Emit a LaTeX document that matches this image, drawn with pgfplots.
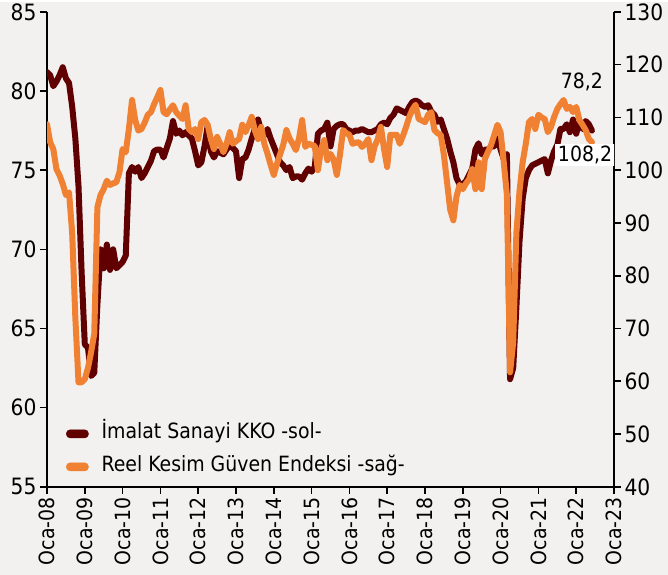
\documentclass[border=0pt]{standalone}
\usepackage{fontspec}
\setmainfont{DejaVu Sans Condensed}
\usepackage{pgfplots}
\pgfplotsset{compat=1.18}
\definecolor{bg}{RGB}{242,241,239}
\definecolor{kko}{RGB}{96,0,0}
\definecolor{rkge}{RGB}{240,128,50}
\newcommand{\tickfont}{\fontsize{22.5bp}{26bp}\selectfont}
\newcommand{\xfont}{\fontsize{21bp}{25bp}\selectfont}
\newcommand{\legfont}{\fontsize{21bp}{24bp}\selectfont}
\pgfplotsset{
  common/.style={
    at={(47bp,88bp)}, anchor=south west,
    width=567bp, height=475bp, scale only axis,
    xmin=0, xmax=180,
    axis line style={-, black, line width=1.6bp},
    every tick/.style={black, line width=1.6bp},
    major tick length=7bp,
    tick align=outside,
    /pgf/number format/assume math mode=true,
    yticklabel style={font=\tickfont},
    xticklabel style={font=\xfont},
  }
}
\begin{document}
\begin{tikzpicture}
\fill[bg] (0bp,0bp) rectangle (668bp,573bp);
\begin{axis}[common,
  ymin=55, ymax=85, ytick={55,60,...,85},
  axis x line*=bottom, axis y line*=left,
  xtick={0,12,...,180},
  xticklabels={Oca-08,Oca-09,Oca-10,Oca-11,Oca-12,Oca-13,Oca-14,Oca-15,Oca-16,Oca-17,Oca-18,Oca-19,Oca-20,Oca-21,Oca-22,Oca-23},
  xticklabel style={rotate=90, anchor=east},
]
\addplot[kko, line width=6bp, line join=round, line cap=round] coordinates {
(0,81.2)(1,81.0)(2,80.3)(3,80.6)(4,81.0)(5,81.5)(6,80.8)(7,80.5)(8,79.0)(9,77.0)
(10,74.0)(11,68.5)(12,64.0)(13,63.8)(14,62.0)(15,62.2)(16,66.5)(17,70.0)(18,68.8)(19,70.3)
(20,68.7)(21,70.0)(22,68.8)(23,69.0)(24,69.2)(25,69.6)(26,74.8)(27,75.2)(28,74.9)(29,75.2)
(30,74.5)(31,74.8)(32,75.2)(33,75.6)(34,76.2)(35,76.3)(36,76.3)(37,75.8)(38,76.4)(39,77.0)
(40,78.1)(41,77.3)(42,77.5)(43,77.2)(44,77.4)(45,77.2)(46,77.0)(47,76.2)(48,75.3)(49,75.5)
(50,76.5)(51,77.8)(52,76.2)(53,75.8)(54,76.2)(55,76.1)(56,76.0)(57,76.3)(58,76.6)(59,76.4)
(60,76.2)(61,74.5)(62,75.7)(63,75.8)(64,76.3)(65,77.0)(66,77.6)(67,78.2)(68,77.5)(69,77.2)
(70,77.6)(71,77.0)(72,76.5)(73,76.0)(74,75.5)(75,75.3)(76,75.0)(77,75.2)(78,74.5)(79,74.6)
(80,74.6)(81,74.4)(82,74.8)(83,75.1)(84,74.9)(85,75.2)(86,77.3)(87,77.5)(88,77.6)(89,78.0)
(90,76.5)(91,77.6)(92,77.8)(93,77.9)(94,77.9)(95,77.6)(96,77.5)(97,77.4)(98,77.5)(99,77.5)
(100,77.6)(101,77.5)(102,77.4)(103,77.4)(104,77.5)(105,77.6)(106,77.9)(107,78.0)(108,77.9)(109,78.3)
(110,78.5)(111,78.9)(112,78.8)(113,78.7)(114,78.6)(115,79.0)(116,79.3)(117,79.4)(118,79.3)(119,79.1)
(120,79.0)(121,79.1)(122,78.7)(123,78.5)(124,78.05)(125,78.2)(126,77.6)(127,77.0)(128,76.2)(129,75.5)
(130,74.5)(131,74.1)(132,74.1)(133,74.3)(134,74.7)(135,75.1)(136,76.3)(137,76.7)(138,76.0)(139,76.3)
(140,76.3)(141,76.5)(142,76.5)(143,77.0)(144,76.3)(145,75.7)(146,76.0)(147,61.8)(148,62.5)(149,66.3)
(150,70.5)(151,73.2)(152,74.5)(153,75.0)(154,75.3)(155,75.4)(156,75.5)(157,75.6)(158,75.7)(159,74.8)
(160,75.6)(161,76.2)(162,76.6)(163,77.6)(164,77.6)(165,77.9)(166,77.4)(167,78.2)(168,77.3)(169,78.0)
(170,77.6)(171,78.1)(172,77.9)(173,77.5)
};
\end{axis}
\begin{axis}[common,
  ymin=40, ymax=130, ytick={40,50,...,130},
  axis x line=none, axis y line*=right,
  legend style={at={(0.0335,0.0768)}, anchor=west, draw=none, fill=none,
    font=\legfont, inner sep=0pt, row sep=13bp, column sep=13bp,
    nodes={inner sep=0bp, text height=15bp, text depth=5bp}},
  legend cell align=left,
]
\addlegendimage{legend image code/.code={\fill[kko, rounded corners=3.5bp] (0bp,-4bp) rectangle (22bp,4bp);}}
\addlegendentry{İmalat Sanayi KKO -sol-}
\addlegendimage{legend image code/.code={\fill[rkge, rounded corners=3.5bp] (0bp,-4bp) rectangle (22bp,4bp);}}
\addlegendentry{Reel Kesim Güven Endeksi -sağ-}
\addplot[rkge, line width=6bp, line join=round, line cap=round, forget plot] coordinates {
(0,108.7)(1,105.3)(2,104.0)(3,100.2)(4,99.0)(5,97.4)(6,95.3)(7,95.8)(8,88.0)(9,72.0)
(10,59.8)(11,59.8)(12,60.4)(13,62.5)(14,65.5)(15,69.0)(16,93.0)(17,95.3)(18,96.4)(19,98.0)
(20,97.2)(21,97.5)(22,97.7)(23,99.6)(24,104.0)(25,103.4)(26,107.8)(27,113.3)(28,109.5)(29,107.5)
(30,107.8)(31,109.0)(32,110.5)(33,111.0)(34,112.5)(35,113.8)(36,115.2)(37,111.0)(38,110.6)(39,111.5)
(40,112.3)(41,111.0)(42,110.3)(43,109.7)(44,112.3)(45,107.8)(46,107.2)(47,107.8)(48,105.9)(49,109.1)
(50,109.5)(51,108.6)(52,105.9)(53,104.0)(54,106.3)(55,105.0)(56,103.4)(57,105.0)(58,107.2)(59,105.0)
(60,105.5)(61,105.9)(62,108.6)(63,107.2)(64,108.5)(65,110.1)(66,107.5)(67,105.9)(68,108.2)(69,105.0)
(70,103.1)(71,101.0)(72,99.1)(73,101.2)(74,103.0)(75,104.8)(76,107.6)(77,106.0)(78,105.0)(79,103.8)
(80,106.0)(81,109.5)(82,104.4)(83,105.0)(84,104.8)(85,104.6)(86,100.0)(87,104.0)(88,105.7)(89,101.9)
(90,103.1)(91,102.0)(92,99.1)(93,102.9)(94,107.6)(95,107.0)(96,106.7)(97,105.0)(98,105.2)(99,105.3)
(100,104.4)(101,105.0)(102,105.9)(103,101.9)(104,104.5)(105,105.9)(106,108.2)(107,104.0)(108,100.6)(109,106.7)
(110,106.7)(111,106.7)(112,105.0)(113,106.5)(114,108.2)(115,110.1)(116,111.5)(117,112.4)(118,109.7)(119,109.4)
(120,109.1)(121,110.5)(122,111.0)(123,107.6)(124,107.0)(125,106.7)(126,102.9)(127,97.7)(128,92.5)(129,90.5)
(130,95.0)(131,97.2)(132,96.4)(133,97.5)(134,98.3)(135,100.2)(136,96.4)(137,101.5)(138,96.4)(139,102.1)
(140,103.5)(141,104.8)(142,106.7)(143,108.6)(144,107.2)(145,101.5)(146,95.3)(147,61.7)(148,67.4)(149,88.0)
(150,96.0)(151,101.5)(152,105.0)(153,109.1)(154,109.7)(155,107.8)(156,110.5)(157,110.0)(158,109.7)(159,107.2)
(160,108.2)(161,110.1)(162,111.6)(163,112.5)(164,113.3)(165,111.6)(166,112.0)(167,111.0)(168,112.0)(169,109.5)
(170,108.6)(171,107.6)(172,105.9)(173,105.3)
};
\node[font=\legfont, text=black] at (axis cs:169.8,116.8) {78,2};
\node[font=\legfont, text=black, fill=white, inner xsep=3bp, inner ysep=2bp] at (axis cs:170.8,102.9) {108,2};
\end{axis}
\end{tikzpicture}
\end{document}
